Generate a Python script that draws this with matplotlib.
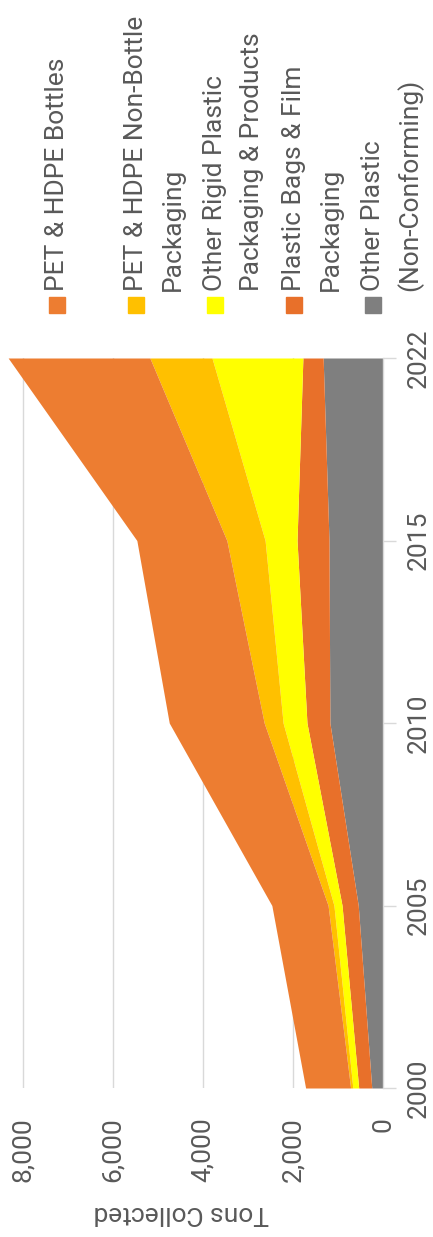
import numpy as np
import matplotlib
matplotlib.use("Agg")
import matplotlib.pyplot as plt
from matplotlib.patches import Rectangle

plt.rcParams["font.family"] = ["Roboto", "DejaVu Sans"]

# ── Data (tons collected) ─────────────────────────────────────────────────────
years = ["2000", "2005", "2010", "2015", "2022"]
other_plastic = [250, 550, 1180, 1200, 1330]
bags_film = [290, 360, 510, 710, 450]
other_rigid = [130, 180, 530, 710, 2020]
pet_non_bottle = [50, 130, 420, 850, 1380]
pet_bottles = [1000, 1250, 2110, 2000, 3150]

value_ticks = [0, 2000, 4000, 6000, 8000]
value_max = 9000

# stacked bottom → top
series = [other_plastic, bags_film, other_rigid, pet_non_bottle, pet_bottles]
colors = ["#7F7F7F", "#E8702A", "#FFFF00", "#FFC000", "#ED7D31"]

# legend order (as shown, left → right in the rotated picture)
legend_labels = [
    ["PET & HDPE Bottles"],
    ["PET & HDPE Non-Bottle", "Packaging"],
    ["Other Rigid Plastic", "Packaging & Products"],
    ["Plastic Bags & Film", "Packaging"],
    ["Other Plastic", "(Non-Conforming)"],
]
legend_colors = ["#ED7D31", "#FFC000", "#FFFF00", "#E8702A", "#7F7F7F"]

TEXT = "#595959"
GRID = "#D9D9D9"
W, H = 433, 1237


def fx(px):
    return px / W


def fy(py):
    return 1 - py / H


fig = plt.figure(figsize=(W / 100, H / 100), dpi=100)

# the chart is drawn turned a quarter turn: years run bottom → top, tons right → left
left_px, right_px, top_px, bottom_px = -22, 383, 358, 1088
ax = fig.add_axes([fx(left_px), fy(bottom_px), fx(right_px - left_px), (bottom_px - top_px) / H])

pos = np.arange(len(years))
base = np.zeros(len(years))
for vals, c in zip(series, colors):
    top = base + np.array(vals)
    ax.fill_betweenx(pos, base, top, color=c, linewidth=0, zorder=2)
    base = top

ax.set_xlim(value_max, 0)
ax.set_ylim(0, len(years) - 1)

for v in value_ticks[1:]:
    ax.axvline(v, color=GRID, linewidth=1, zorder=1)

for s in ["top", "bottom", "left"]:
    ax.spines[s].set_visible(False)
ax.spines["right"].set_color(GRID)
ax.spines["right"].set_linewidth(1)

ax.set_xticks(value_ticks)
ax.set_xticklabels([f"{v:,}" for v in value_ticks], rotation=90, color=TEXT, fontsize=19)
ax.tick_params(axis="x", length=0, pad=21)

ax.yaxis.tick_right()
ax.set_yticks(pos)
ax.set_yticklabels(years, rotation=90, color=TEXT, fontsize=19, va="center")
ax.tick_params(axis="y", direction="out", length=9, width=1, color=GRID, pad=8)

fig.text(fx(181), fy(1213), "Tons Collected", rotation=180, color=TEXT, fontsize=19,
         ha="center", va="center")

# legend, written by hand so it can turn with the chart
for i, (lines, c) in enumerate(zip(legend_labels, legend_colors)):
    x0 = 57 + i * 79
    fig.add_artist(Rectangle((fx(x0 - 8), fy(313)), fx(16), 16 / H, color=c,
                             transform=fig.transFigure))
    for j, line in enumerate(lines):
        fig.text(fx(x0 + j * 36.5), fy(291), line, rotation=90, rotation_mode="anchor",
                 ha="left", va="center", color=TEXT, fontsize=19)

fig.savefig("out.png", dpi=100)
